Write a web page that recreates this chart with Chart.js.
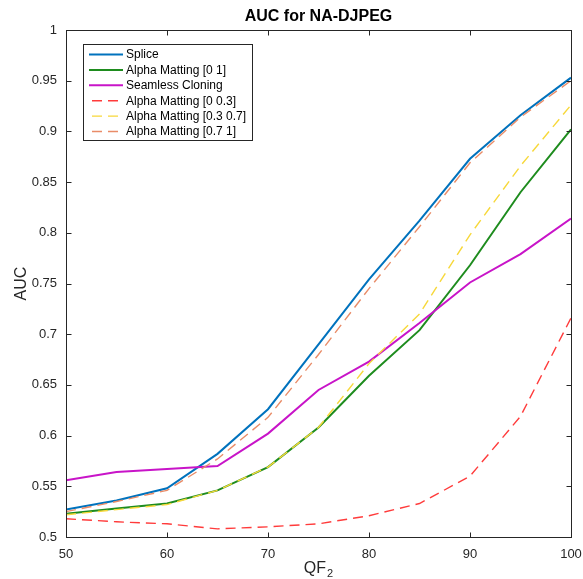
<!DOCTYPE html>
<html>
<head>
<meta charset="utf-8">
<script src="https://cdn.jsdelivr.net/npm/chart.js@4/dist/chart.umd.min.js"></script>
<style>
  html, body { margin: 0; padding: 0; background: #fff; }
  #wrap { width: 583px; height: 579px; }
</style>
</head>
<body>
<div id="wrap"><canvas id="auc" width="583" height="579"></canvas></div>
<script>
// QF2 values on the x axis
const qf = [50, 55, 60, 65, 70, 75, 80, 85, 90, 95, 100];

// AUC per method
const splice      = [0.527, 0.536, 0.548, 0.582, 0.626, 0.690, 0.754, 0.812, 0.873, 0.916, 0.953];
const alpha01     = [0.523, 0.528, 0.533, 0.546, 0.569, 0.608, 0.659, 0.704, 0.768, 0.840, 0.902];
const seamless    = [0.556, 0.564, 0.567, 0.570, 0.602, 0.645, 0.673, 0.711, 0.751, 0.779, 0.814];
const alpha0_03   = [0.518, 0.515, 0.513, 0.508, 0.510, 0.513, 0.521, 0.533, 0.560, 0.619, 0.716];
const alpha03_07  = [0.522, 0.527, 0.532, 0.546, 0.569, 0.608, 0.671, 0.720, 0.798, 0.866, 0.926];
const alpha07_1   = [0.525, 0.535, 0.546, 0.577, 0.618, 0.680, 0.745, 0.806, 0.869, 0.914, 0.950];

const seriesLabels = ['Splice', 'Alpha Matting [0 1]', 'Seamless Cloning',
    'Alpha Matting [0 0.3]', 'Alpha Matting [0.3 0.7]', 'Alpha Matting [0.7 1]'];
const xTicks = [50, 60, 70, 80, 90, 100];
const yTicks = [0.5, 0.55, 0.6, 0.65, 0.7, 0.75, 0.8, 0.85, 0.9, 0.95, 1];

const FONT = 'Helvetica, "Liberation Sans", Arial, sans-serif';
const INK = '#262626';

function toPoints(vals) {
    return vals.map((v, i) => ({ x: qf[i], y: v }));
}

const styles = [
    { color: '#0072BD', width: 2, dash: [] },
    { color: '#1E8C1E', width: 2, dash: [] },
    { color: '#C814C8', width: 2, dash: [] },
    { color: '#FF3B3B', width: 1.4, dash: [10, 6] },
    { color: '#F7D83A', width: 1.4, dash: [10, 6] },
    { color: '#E98C68', width: 1.4, dash: [10, 6] }
];
const allSeries = [splice, alpha01, seamless, alpha0_03, alpha03_07, alpha07_1];

const datasets = allSeries.map((vals, i) => ({
    label: seriesLabels[i],
    data: toPoints(vals),
    borderColor: styles[i].color,
    backgroundColor: styles[i].color,
    borderWidth: styles[i].width,
    borderDash: styles[i].dash,
    pointRadius: 0,
    tension: 0,
    fill: false,
    // later series painted on top, like the original plot
    order: allSeries.length - i
}));

// box, inward ticks, titles and legend (matlab-ish frame)
const framePlugin = {
    id: 'frame',
    afterDraw(chart) {
        const ctx = chart.ctx;
        const a = chart.chartArea;
        const xs = chart.scales.x, ys = chart.scales.y;
        const L = Math.round(a.left) + 0.5, R = Math.round(a.right) + 0.5;
        const T = Math.round(a.top) + 0.5, B = Math.round(a.bottom) + 0.5;
        ctx.save();
        ctx.strokeStyle = INK;
        ctx.lineWidth = 1;
        ctx.setLineDash([]);
        ctx.strokeRect(L, T, R - L, B - T);

        const tl = 5;
        ctx.beginPath();
        xTicks.forEach(v => {
            const px = Math.round(xs.getPixelForValue(v)) + 0.5;
            ctx.moveTo(px, B); ctx.lineTo(px, B - tl);
            ctx.moveTo(px, T); ctx.lineTo(px, T + tl);
        });
        yTicks.forEach(v => {
            const py = Math.round(ys.getPixelForValue(v)) + 0.5;
            ctx.moveTo(L, py); ctx.lineTo(L + tl, py);
            ctx.moveTo(R, py); ctx.lineTo(R - tl, py);
        });
        ctx.stroke();

        // title
        const cx = (a.left + a.right) / 2;
        ctx.fillStyle = '#000';
        ctx.font = 'bold 16px ' + FONT;
        ctx.textAlign = 'center';
        ctx.textBaseline = 'middle';
        ctx.fillText('AUC for NA-DJPEG', cx, 17);

        // x label with subscript
        ctx.fillStyle = INK;
        ctx.textBaseline = 'alphabetic';
        ctx.textAlign = 'left';
        ctx.font = '16px ' + FONT;
        const w1 = ctx.measureText('QF').width;
        ctx.font = '11px ' + FONT;
        const w2 = ctx.measureText('2').width;
        const sx = cx - (w1 + w2 + 1) / 2;
        ctx.font = '16px ' + FONT;
        ctx.fillText('QF', sx, 573);
        ctx.font = '11px ' + FONT;
        ctx.fillText('2', sx + w1 + 1, 577);

        // legend
        const bx = 83.5, by = 44.5, bw = 169, bh = 96;
        ctx.fillStyle = '#fff';
        ctx.fillRect(bx, by, bw, bh);
        ctx.strokeStyle = INK;
        ctx.lineWidth = 1;
        ctx.strokeRect(bx, by, bw, bh);
        ctx.font = '12px ' + FONT;
        ctx.textBaseline = 'middle';
        chart.data.datasets.forEach((ds, i) => {
            const y = 54.5 + i * 15.4;
            const dashed = ds.borderDash.length > 0;
            ctx.strokeStyle = ds.borderColor;
            ctx.lineWidth = ds.borderWidth;
            ctx.setLineDash(dashed ? [10, 6] : []);
            ctx.beginPath();
            ctx.moveTo(dashed ? 92 : 89, y);
            ctx.lineTo(dashed ? 120 : 123, y);
            ctx.stroke();
            ctx.fillStyle = '#000';
            ctx.fillText(ds.label, 126, y + 0.5);
        });
        ctx.restore();
    }
};

new Chart(document.getElementById('auc'), {
    type: 'line',
    data: { datasets: datasets },
    options: {
        responsive: false,
        animation: false,
        layout: { padding: { top: 30, right: 12, bottom: 5, left: 8 } },
        plugins: {
            legend: { display: false },
            title: { display: false },
            tooltip: { enabled: false }
        },
        scales: {
            x: {
                type: 'linear',
                min: 50,
                max: 100,
                afterBuildTicks: s => { s.ticks = xTicks.map(v => ({ value: v })); },
                afterFit: s => { s.height = 37; s.paddingLeft = 0; s.paddingRight = 0; },
                grid: { display: false, drawTicks: false },
                border: { display: false },
                ticks: { color: INK, font: { family: FONT, size: 13 }, padding: 10 }
            },
            y: {
                type: 'linear',
                min: 0.5,
                max: 1,
                afterBuildTicks: s => { s.ticks = yTicks.map(v => ({ value: v })); },
                afterFit: s => { s.width = 58; s.paddingTop = 0; s.paddingBottom = 0; },
                grid: { display: false, drawTicks: false },
                border: { display: false },
                ticks: {
                    color: INK,
                    font: { family: FONT, size: 13 },
                    padding: 9,
                    callback: v => String(+Number(v).toFixed(2))
                },
                title: { display: true, text: 'AUC', color: INK, font: { family: FONT, size: 16 } }
            }
        }
    },
    plugins: [framePlugin]
});
</script>
</body>
</html>
